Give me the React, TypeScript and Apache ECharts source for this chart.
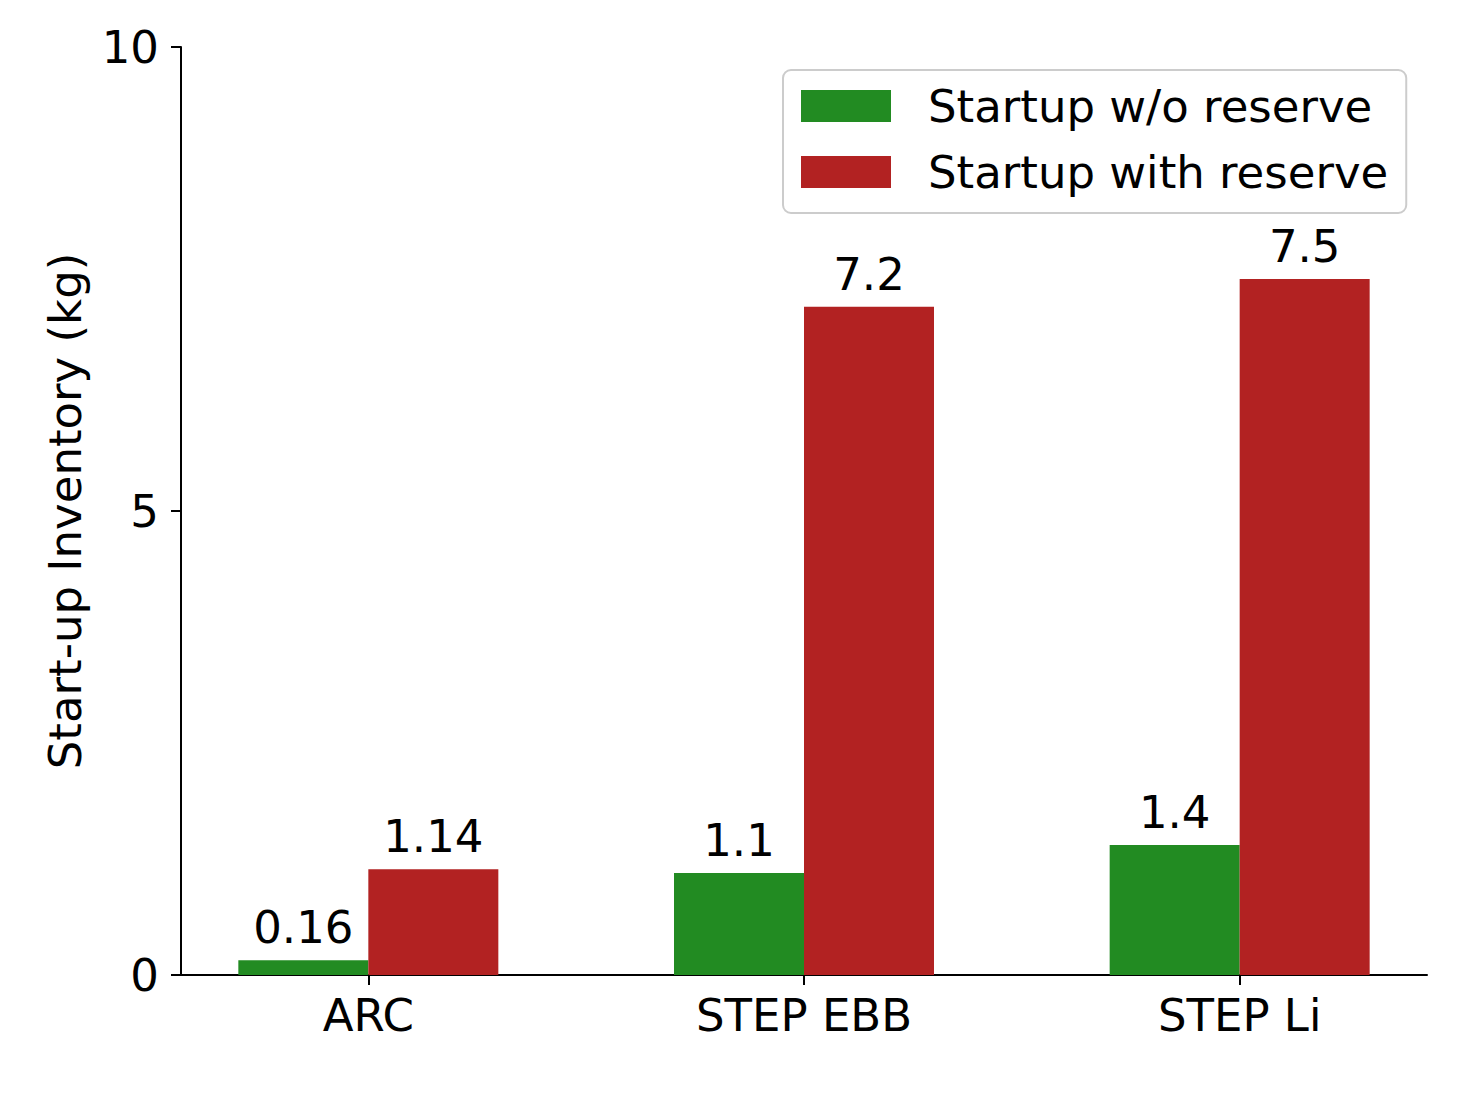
import React, { useEffect, useRef } from "react";
import * as echarts from "echarts";

const categories = ["ARC", "STEP EBB", "STEP Li"];
const withoutReserve = [0.16, 1.1, 1.4];
const withReserve = [1.14, 7.2, 7.5];
const labelsWithout = ["0.16", "1.1", "1.4"];
const labelsWith = ["1.14", "7.2", "7.5"];
const seriesNames = ["Startup w/o reserve", "Startup with reserve"];

const FONT = "DejaVu Sans";
const FS = 45;

export default function App() {
  const ref = useRef<HTMLDivElement>(null);
  useEffect(() => {
    if (!ref.current) return;
    const chart = echarts.init(ref.current, undefined, { renderer: "svg" });
    const mk = (vals: number[], labels: string[]) =>
      vals.map((v, i) => ({ value: [i, v], label: { formatter: labels[i] } }));
    chart.setOption({
      animation: false,
      backgroundColor: "#ffffff",
      textStyle: { fontFamily: FONT },
      grid: { left: 181, right: 56, top: 47, bottom: 121, containLabel: false },
      legend: {
        left: 783,
        top: 70,
        orient: "vertical",
        itemWidth: 90,
        itemHeight: 32,
        itemGap: 20,
        padding: [13, 18, 18, 18],
        backgroundColor: "#ffffff",
        borderColor: "#cccccc",
        borderWidth: 2,
        borderRadius: 8,
        icon: "rect",
        textStyle: { fontSize: FS, color: "#000", fontFamily: FONT, lineHeight: 46, padding: [0, 0, 0, 32] },
        data: seriesNames,
      },
      xAxis: {
        type: "value",
        min: -0.43,
        max: 2.43,
        splitLine: { show: false },
        axisLine: { show: true, onZero: false, lineStyle: { color: "#000", width: 2 } },
        axisTick: { show: true, length: 10, lineStyle: { color: "#000", width: 2 }, customValues: [0, 1, 2] },
        axisLabel: {
          fontSize: FS,
          color: "#000",
          fontFamily: FONT,
          margin: 18,
          customValues: [0, 1, 2],
          formatter: (v: number) => categories[Math.round(v)] ?? "",
        },
      },
      yAxis: {
        type: "value",
        min: 0,
        max: 10,
        interval: 5,
        splitLine: { show: false },
        axisLine: { show: true, onZero: false, lineStyle: { color: "#000", width: 2 } },
        axisTick: { show: true, length: 10, lineStyle: { color: "#000", width: 2 } },
        axisLabel: { fontSize: FS, color: "#000", fontFamily: FONT, margin: 22 },
        name: "Start-up Inventory (kg)",
        nameLocation: "middle",
        nameGap: 93,
        nameTextStyle: { fontSize: FS, color: "#000", fontFamily: FONT },
      },
      series: [
        {
          name: seriesNames[0],
          type: "bar",
          barWidth: 130,
          barGap: "0%",
          itemStyle: { color: "#228B22" },
          label: { show: true, position: "top", distance: 10, fontSize: FS, color: "#000", fontFamily: FONT },
          data: mk(withoutReserve, labelsWithout),
        },
        {
          name: seriesNames[1],
          type: "bar",
          barWidth: 130,
          barGap: "0%",
          itemStyle: { color: "#B22222" },
          label: { show: true, position: "top", distance: 10, fontSize: FS, color: "#000", fontFamily: FONT },
          data: mk(withReserve, labelsWith),
        },
      ],
    });
    return () => chart.dispose();
  }, []);
  return <div ref={ref} style={{ width: 1483, height: 1096, margin: -8 }} />;
}
